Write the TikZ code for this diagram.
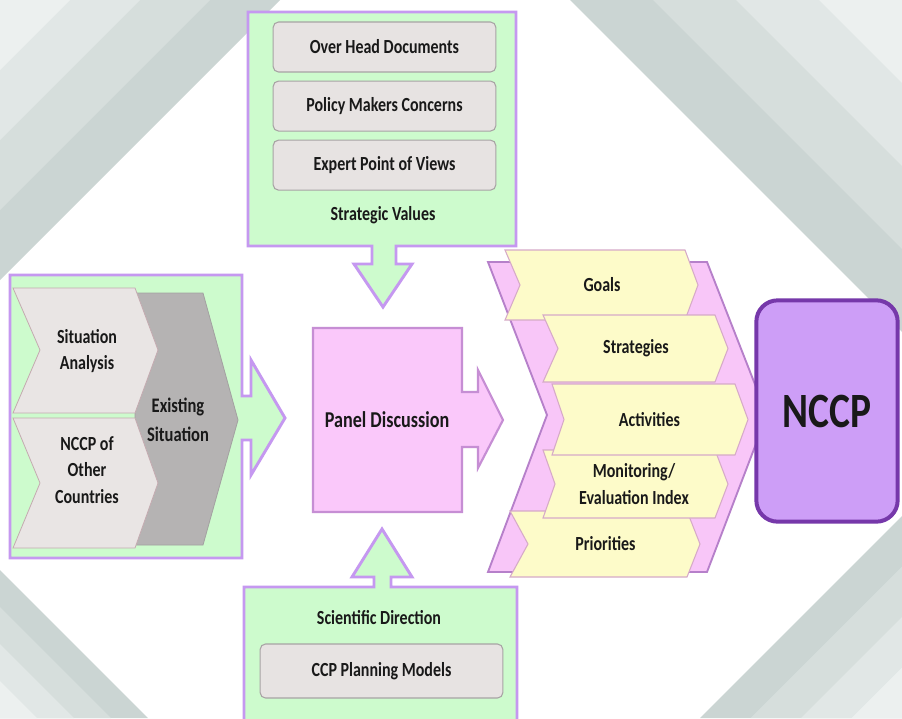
\documentclass[tikz,border=0pt]{standalone}
\usepackage{fontspec}
\setmainfont{Carlito}[FakeStretch=0.8]
\usetikzlibrary{positioning}

\definecolor{bgA}{RGB}{203,213,211}
\definecolor{bgB}{RGB}{214,222,220}
\definecolor{bgC}{RGB}{225,231,230}
\definecolor{bgD}{RGB}{236,240,239}
\definecolor{callfill}{RGB}{205,251,205}
\definecolor{callline}{RGB}{197,152,240}
\definecolor{itemfill}{RGB}{231,227,226}
\definecolor{itemline}{RGB}{168,163,164}
\definecolor{chevfill}{RGB}{233,229,228}
\definecolor{chevline}{RGB}{196,170,176}
\definecolor{chevdark}{RGB}{181,179,179}
\definecolor{panelfill}{RGB}{250,200,250}
\definecolor{panelline}{RGB}{198,142,212}
\definecolor{outerfill}{RGB}{248,198,248}
\definecolor{outerline}{RGB}{182,128,202}
\definecolor{stepfill}{RGB}{253,251,201}
\definecolor{stepline}{RGB}{214,170,200}
\definecolor{nccpfill}{RGB}{205,158,247}
\definecolor{nccpline}{RGB}{118,56,170}

\begin{document}
\begin{tikzpicture}[x=0.75pt,y=-0.75pt,
    every node/.style={font=\bfseries\fontsize{15}{20}\selectfont, align=center, text=black!90},
    callout/.style={fill=callfill, draw=callline, line width=2.2pt},
    item/.style={draw=itemline, fill=itemfill, rounded corners=4pt, line width=0.8pt,
                 minimum width=167pt, minimum height=37.5pt, inner sep=0pt},
    chev/.style={fill=chevfill, draw=chevline, line width=0.6pt},
    planstep/.style={fill=stepfill, draw=stepline, line width=0.8pt}]

  \useasboundingbox (0,0) rectangle (902,718);
  \clip (0,0) rectangle (902,718);

  % background
  \fill[white] (0,0) rectangle (902,718);
  \foreach \f/\tone in {1/bgA, 0.75/bgB, 0.5/bgC, 0.25/bgD} {
    \fill[\tone] (0,0) -- ({280*\f},0) -- (0,{280*\f}) -- cycle;
    \fill[\tone] (902,0) -- ({902-332*\f},0) -- (902,{332*\f}) -- cycle;
    \fill[\tone] (0,718) -- ({148*\f},718) -- (0,{718-148*\f}) -- cycle;
    \fill[\tone] (902,718) -- ({902-202*\f},718) -- (902,{718-202*\f}) -- cycle;
  }

  % strategic values
  \draw[callout] (248,12) -- (516,12) -- (516,246) -- (396,246) -- (396,264) -- (412,264)
     -- (383,307) -- (354,264) -- (372,264) -- (372,246) -- (248,246) -- cycle;
  \node[item] (overhead) at (384.5,47) {Over Head Documents};
  \node[item, below=6pt of overhead] (concerns) {Policy Makers Concerns};
  \node[item, below=6pt of concerns] (experts) {Expert Point of Views};
  \node (strategic) at (383,215) {Strategic Values};

  % scientific direction
  \draw[callout] (244,740) -- (244,587) -- (374,587) -- (374,577) -- (352,577) -- (382,529)
     -- (412,577) -- (391,577) -- (391,587) -- (517,587) -- (517,740) -- cycle;
  \node (scientific) at (379,618) {Scientific Direction};
  \node[item, minimum width=182pt, minimum height=40.5pt] (ccpmodels) at (381.5,671) {CCP Planning Models};

  % existing situation
  \draw[callout] (10,275) -- (242,275) -- (242,396) -- (251,396) -- (251,360) -- (285,418)
     -- (251,475) -- (251,440) -- (242,440) -- (242,558) -- (10,558) -- cycle;
  \draw[fill=chevdark, draw=chevdark!90!black, line width=0.6pt]
     (135,293) -- (203,293) -- (238,420) -- (203,545) -- (135,545) -- cycle;
  \draw[chev] (13,288) -- (135,288) -- (158,350) -- (135,413) -- (13,413) -- (40,350) -- cycle;
  \draw[chev] (13,418) -- (135,418) -- (158,483) -- (135,548) -- (13,548) -- (40,483) -- cycle;
  \node (sitanalysis) at (87,351) {Situation\\Analysis};
  \node (othercountries) at (87,470) {NCCP of\\Other\\Countries};
  \node[font=\bfseries\fontsize{15.5}{22}\selectfont] (existing) at (178,420) {Existing\\Situation};

  % panel discussion
  \draw[fill=panelfill, draw=panelline, line width=1.6pt] (313,328) -- (462,328) -- (462,392)
     -- (478,392) -- (478,370) -- (503,420) -- (478,468) -- (478,447) -- (462,447)
     -- (462,512) -- (313,512) -- cycle;
  \node[font=\bfseries\fontsize{17}{20}\selectfont] (panel) at (387,420) {Panel Discussion};

  % plan components
  \draw[fill=outerfill, draw=outerline, line width=1.4pt] (488,262) -- (707,262) -- (767,415)
     -- (707,572) -- (488,572) -- (547,415) -- cycle;
  \foreach \xl/\xr/\yt/\yb/\dn/\dx/\nm/\txt in {
      505/685/250/320/15/7/goals/Goals,
      543/715/315/382/15/7/strategies/Strategies,
      510/687/511/577/18/7/priorities/Priorities,
      543/715/450/518/12/5/monitoring/{Monitoring/\\Evaluation Index},
      552/735/384/455/12/6/activities/Activities} {
    \draw[planstep] (\xl,\yt) -- (\xr,\yt) -- ({\xr+13},{(\yt+\yb)/2}) -- (\xr,\yb) -- (\xl,\yb)
       -- ({\xl+\dn},{(\yt+\yb)/2}) -- cycle;
    \node (\nm) at ({(\xl+\xr)/2+\dx},{(\yt+\yb)/2}) {\txt};
  }

  % result
  \node[draw=nccpline, fill=nccpfill, line width=3pt, rounded corners=16pt, minimum width=106pt,
        minimum height=166pt, font=\bfseries\fontsize{37}{40}\selectfont] (nccp) at (827,411) {NCCP};
\end{tikzpicture}
\end{document}
